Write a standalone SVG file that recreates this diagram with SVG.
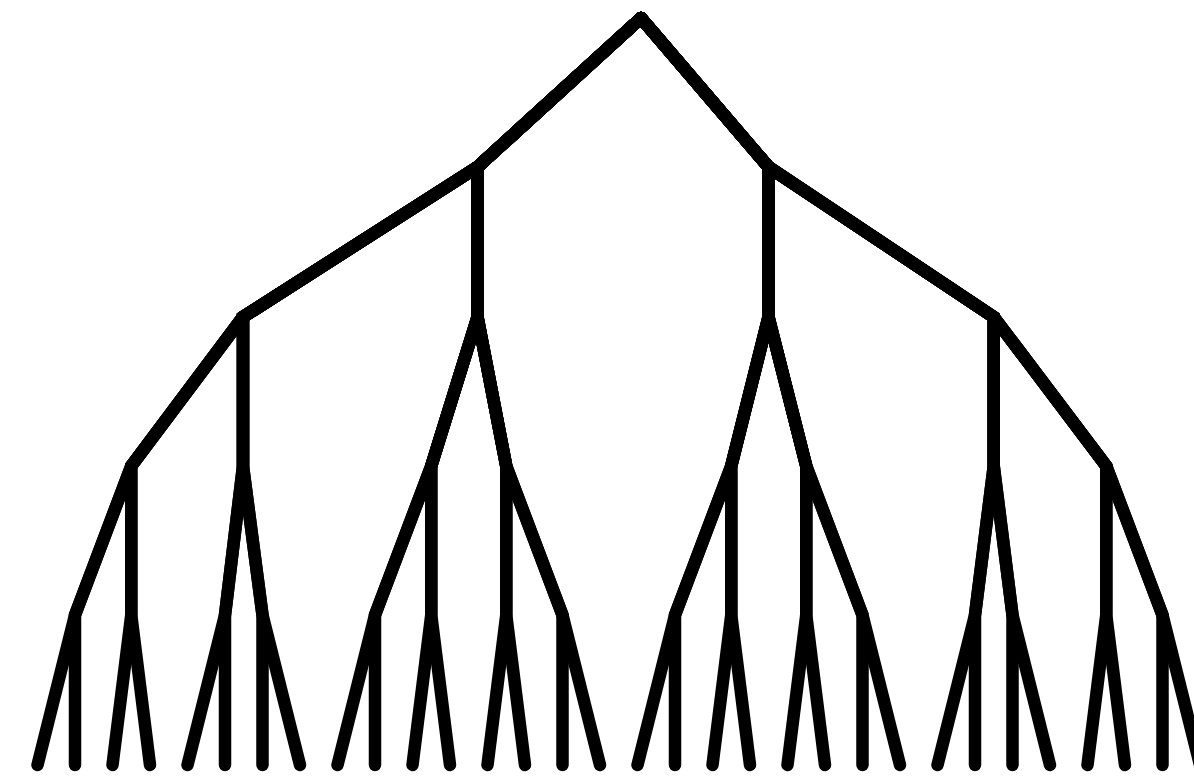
<svg xmlns="http://www.w3.org/2000/svg" width="1194" height="780" viewBox="0 0 1194 780">
<style>
.e{fill:none;stroke:#000;stroke-width:12.5;stroke-linecap:round;stroke-linejoin:miter;stroke-miterlimit:10}
</style>
<rect width="1194" height="780" fill="#fff"/>
<g id="connectors">
<path class="e" d="M641 18L477.5 167L243 317L131.25 466L75 615L37.5 765"/>
<path class="e" d="M641 18L477.5 167L243 317L131.25 466L75 615L75 765"/>
<path class="e" d="M641 18L477.5 167L243 317L131.25 466L131.25 615L112.5 765"/>
<path class="e" d="M641 18L477.5 167L243 317L131.25 466L131.25 615L150 765"/>
<path class="e" d="M641 18L477.5 167L243 317L243 466L225 615L187.5 765"/>
<path class="e" d="M641 18L477.5 167L243 317L243 466L225 615L225 765"/>
<path class="e" d="M641 18L477.5 167L243 317L243 466L262.5 615L262.5 765"/>
<path class="e" d="M641 18L477.5 167L243 317L243 466L262.5 615L300 765"/>
<path class="e" d="M641 18L477.5 167L477.5 317L431.25 466L375 615L337.5 765"/>
<path class="e" d="M641 18L477.5 167L477.5 317L431.25 466L375 615L375 765"/>
<path class="e" d="M641 18L477.5 167L477.5 317L431.25 466L431.25 615L412.5 765"/>
<path class="e" d="M641 18L477.5 167L477.5 317L431.25 466L431.25 615L450 765"/>
<path class="e" d="M641 18L477.5 167L477.5 317L506.25 466L506.25 615L487.5 765"/>
<path class="e" d="M641 18L477.5 167L477.5 317L506.25 466L506.25 615L525 765"/>
<path class="e" d="M641 18L477.5 167L477.5 317L506.25 466L562.5 615L562.5 765"/>
<path class="e" d="M641 18L477.5 167L477.5 317L506.25 466L562.5 615L600 765"/>
<path class="e" d="M641 18L768.5 167L768.5 317L731.25 466L675 615L637.5 765"/>
<path class="e" d="M641 18L768.5 167L768.5 317L731.25 466L675 615L675 765"/>
<path class="e" d="M641 18L768.5 167L768.5 317L731.25 466L731.25 615L712.5 765"/>
<path class="e" d="M641 18L768.5 167L768.5 317L731.25 466L731.25 615L750 765"/>
<path class="e" d="M641 18L768.5 167L768.5 317L806.25 466L806.25 615L787.5 765"/>
<path class="e" d="M641 18L768.5 167L768.5 317L806.25 466L806.25 615L825 765"/>
<path class="e" d="M641 18L768.5 167L768.5 317L806.25 466L862.5 615L862.5 765"/>
<path class="e" d="M641 18L768.5 167L768.5 317L806.25 466L862.5 615L900 765"/>
<path class="e" d="M641 18L768.5 167L993.75 317L993.75 466L975 615L937.5 765"/>
<path class="e" d="M641 18L768.5 167L993.75 317L993.75 466L975 615L975 765"/>
<path class="e" d="M641 18L768.5 167L993.75 317L993.75 466L1012.5 615L1012.5 765"/>
<path class="e" d="M641 18L768.5 167L993.75 317L993.75 466L1012.5 615L1050 765"/>
<path class="e" d="M641 18L768.5 167L993.75 317L1106.25 466L1106.25 615L1087.5 765"/>
<path class="e" d="M641 18L768.5 167L993.75 317L1106.25 466L1106.25 615L1125 765"/>
<path class="e" d="M641 18L768.5 167L993.75 317L1106.25 466L1162.5 615L1162.5 765"/>
<path class="e" d="M641 18L768.5 167L993.75 317L1106.25 466L1162.5 615L1200 765"/>
</g>
</svg>
